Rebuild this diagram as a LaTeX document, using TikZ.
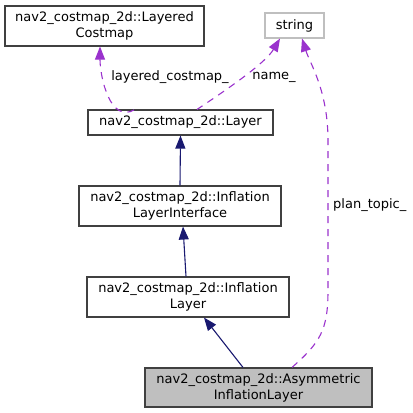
\documentclass[tikz,border=0pt]{standalone}
\usepackage{fontspec}
\setmainfont{DejaVu Sans}
\usetikzlibrary{arrows.meta,positioning}
\definecolor{inhcol}{RGB}{25,25,112}
\definecolor{usecol}{RGB}{154,50,205}
\definecolor{boxline}{RGB}{64,64,64}
\definecolor{curcol}{RGB}{191,191,191}

\tikzset{
  cls/.style={draw=boxline, line width=1.1pt, fill=white, align=center, inner sep=0pt,
    font=\fontsize{13}{16}\selectfont},
  inh/.style={draw=inhcol, line width=1.1pt, {Triangle[length=13pt,width=10pt]}-},
  use/.style={draw=usecol, line width=1.1pt, dash pattern=on 7pt off 6pt,
    {Triangle[length=13pt,width=10pt]}-},
  elabel/.style={font=\fontsize{13}{16}\selectfont, inner sep=0pt}
}

\begin{document}
\begin{tikzpicture}[x=1pt,y=-1pt]
\useasboundingbox (0,0) rectangle (413,413);

% classes
\node[cls, minimum width=199pt, minimum height=40pt] (lcm) at (104.5,26) {nav2\_costmap\_2d::Layered\\Costmap};
\node[cls, draw=curcol, minimum width=59pt, minimum height=25pt] (str) at (294.5,25.5) {string};
\node[cls, minimum width=185pt, minimum height=25pt] (layer) at (180.5,122.5) {nav2\_costmap\_2d::Layer};
\node[cls, minimum width=202pt, minimum height=40pt] (ili) at (180,206) {nav2\_costmap\_2d::Inflation\\LayerInterface};
\node[cls, minimum width=202pt, minimum height=40pt] (il) at (188,297) {nav2\_costmap\_2d::Inflation\\Layer};
\node[cls, fill=curcol, minimum width=227pt, minimum height=39pt] (asym) at (258.5,387.5) {nav2\_costmap\_2d::Asymmetric\\InflationLayer};

% inheritance
\draw[inh] (layer.south) -- (ili.north);
\draw[inh] ([xshift=3pt]ili.south) -- ([xshift=-2pt]il.north);
\draw[inh] ([xshift=16pt]il.south) -- ([xshift=-15.5pt]asym.north);

% members
\draw[use] ([xshift=-4.5pt]lcm.south) .. controls +(0,30) and +(-25,15) .. ([xshift=-45.5pt]layer.north);
\draw[use] ([xshift=-14.5pt]str.south) .. controls +(-15,25) and +(30,-20) .. ([xshift=16.5pt]layer.north);
\draw[use] ([xshift=7.5pt]str.south) .. controls +(8,25) and +(0,-50) .. ++(26,102)
  -- ++(0,150) .. controls +(0,40) and +(28,-25) .. ([xshift=33.5pt]asym.north);

% member labels
\node[elabel] (lblcm) at (170,77) {layered\_costmap\_};
\node[elabel] (lbname) at (274,77) {name\_};
\node[elabel, anchor=west] (lbplan) at (333,205) {plan\_topic\_};
\end{tikzpicture}
\end{document}
